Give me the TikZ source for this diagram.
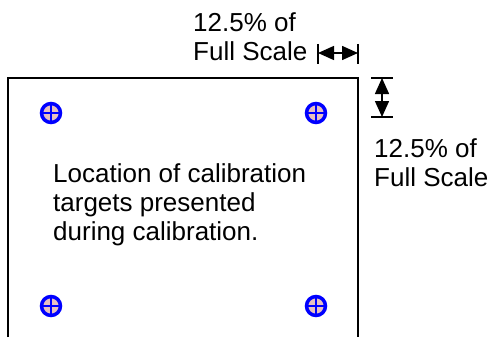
\documentclass[tikz,border=0pt]{standalone}
\usepackage{fontspec}
\setmainfont{Liberation Sans}
\usetikzlibrary{arrows.meta}
\definecolor{tgtfill}{RGB}{232,192,192}
\tikzset{
  target/.style={circle,draw=blue,fill=tgtfill,line width=3.5pt,minimum size=19pt,inner sep=0pt,
    path picture={\draw[blue,line width=2.5pt] (path picture bounding box.north) -- (path picture bounding box.south)
      (path picture bounding box.west) -- (path picture bounding box.east);}},
  label/.style={inner sep=0pt,font=\fontsize{26}{29}\selectfont},
  dim/.style={line width=1.5pt,{Triangle[length=16pt,width=14pt]}-{Triangle[length=16pt,width=14pt]}}
}
\begin{document}
\begin{tikzpicture}[x=1pt,y=-1pt]
\useasboundingbox (0,0) rectangle (492,337);

% open frame
\draw[line width=2pt] (8,337) -- (8,78) -- (358,78) -- (358,337);

\node[target] (tl) at (51,113) {};
\node[target] (tr) at (316,113) {};
\node[target] (bl) at (51,306) {};
\node[target] (br) at (316,306) {};

\node[label,align=left,anchor=north west] (txt) at (53,163) {Location of calibration\\targets presented\\during calibration.};

% horizontal 12.5%
\coordinate (hl) at (318,53);
\coordinate (hr) at (358,53);
\draw[line width=1.5pt] (318,44) -- (318,64);
\draw[line width=1.5pt] (358,44) -- (358,64);
\draw[dim] (hl) -- (hr);
\node[label,align=left,anchor=north west] (htxt) at (193,12) {12.5\% of\\Full Scale};

% vertical 12.5%
\coordinate (vt) at (382,78);
\coordinate (vb) at (382,117);
\draw[line width=1.5pt] (371,78) -- (393,78);
\draw[line width=1.5pt] (371,117) -- (393,117);
\draw[dim] (vt) -- (vb);
\node[label,align=left,anchor=north west] (vtxt) at (374,138) {12.5\% of\\Full Scale};

\end{tikzpicture}
\end{document}
